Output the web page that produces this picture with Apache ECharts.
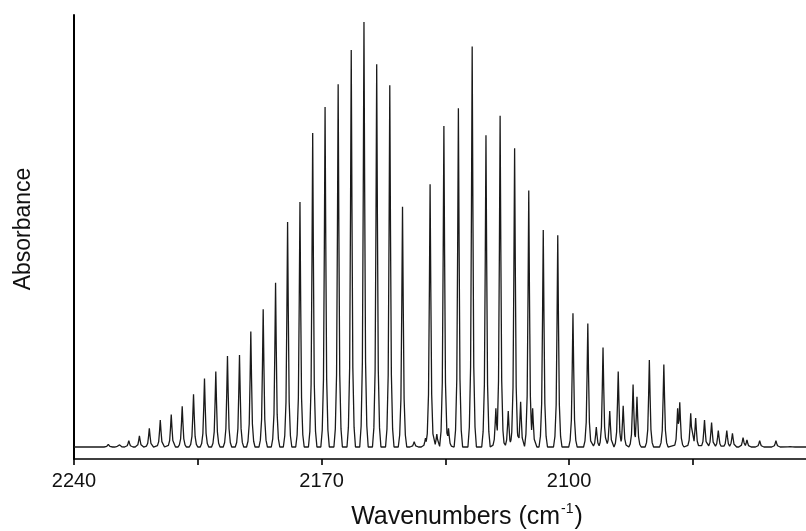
<!DOCTYPE html>
<html>
<head>
<meta charset="utf-8">
<script src="https://cdn.jsdelivr.net/npm/echarts@6/dist/echarts.min.js"></script>
<style>
  html, body { margin: 0; padding: 0; background: #ffffff; }
  #chart { width: 806px; height: 531px; }
</style>
</head>
<body>
<div id="chart"></div>
<script>
// Rotational lines of the fundamental band: centres (cm^-1) and peak absorbance
const lineCentres = [
  2230.3, 2227.3, 2224.5, 2221.5, 2218.7, 2215.6, 2212.5, 2209.4, 2206.2, 2203.1,
  2199.9, 2196.6, 2193.2, 2190.0, 2186.5, 2183.0, 2179.6, 2176.1, 2172.5, 2169.0,
  2165.3, 2161.6, 2158.0, 2154.4, 2150.7, 2147.1,
  2139.3, 2135.4, 2131.3, 2127.4, 2123.5, 2119.5, 2115.4, 2111.4, 2107.3, 2103.2,
  2098.9, 2094.7, 2090.4, 2086.1, 2081.9, 2077.3, 2073.2, 2069.3, 2065.6, 2061.7,
  2057.8, 2053.8, 2050.8, 2046.1, 2041.5, 2037.3
];
const lineHeights = [
  0.033, 0.035, 0.041, 0.052, 0.069, 0.088, 0.100, 0.119, 0.146, 0.181,
  0.197, 0.232, 0.234, 0.287, 0.337, 0.397, 0.534, 0.579, 0.734, 0.793,
  0.844, 0.921, 0.984, 0.889, 0.842, 0.568,
  0.619, 0.750, 0.790, 0.929, 0.729, 0.773, 0.700, 0.605, 0.516, 0.504,
  0.328, 0.305, 0.251, 0.197, 0.168, 0.223, 0.213, 0.114, 0.103, 0.088,
  0.064, 0.058, 0.048, 0.041, 0.041, 0.028
];

// Weak satellite lines (hot band)
const weakCentres = [
  2143.8, 2140.6, 2137.4, 2134.1, 2120.7, 2117.2, 2113.7, 2110.3,
  2092.3, 2088.5, 2084.7, 2080.8, 2068.7, 2064.2, 2059.7, 2055.4, 2049.7
];
const weakHeights = [
  0.039, 0.047, 0.056, 0.069, 0.114, 0.108, 0.129, 0.114,
  0.072, 0.108, 0.120, 0.140, 0.128, 0.092, 0.082, 0.064, 0.043
];

const baselineLevel = 0.027;

// Axis ticks and labels
const xTicks = [2240, 2205, 2170, 2135, 2100, 2065];
const xTickLabels = [2240, 2170, 2100];

// Shape of a single line: offset from centre (cm^-1) and fraction of peak height
const LINE_SHAPE = [
  [-1.2, 0], [-0.8, 0.05], [-0.45, 0.2], [-0.2, 0.6], [0, 1],
  [0.2, 0.6], [0.45, 0.2], [0.8, 0.05], [1.2, 0]
];

function shapeAt(d) {
  if (d <= LINE_SHAPE[0][0] || d >= LINE_SHAPE[LINE_SHAPE.length - 1][0]) return 0;
  for (let k = 1; k < LINE_SHAPE.length; k++) {
    const a = LINE_SHAPE[k - 1], b = LINE_SHAPE[k];
    if (d <= b[0]) return a[1] + (b[1] - a[1]) * (d - a[0]) / (b[0] - a[0]);
  }
  return 0;
}

// Polyline vertices: every line contributes its shape points; overlapping lines keep the higher value
function buildSpectrum(centres, heights, xMin, xMax) {
  const xs = new Set([xMin, xMax]);
  centres.forEach(c => LINE_SHAPE.forEach(p => xs.add(+(c + p[0]).toFixed(3))));
  const sorted = [...xs].filter(x => x >= xMin && x <= xMax).sort((a, b) => a - b);
  return sorted.map(x => {
    let y = baselineLevel;
    centres.forEach((c, i) => {
      const f = shapeAt(x - c);
      if (f > 0) y = Math.max(y, baselineLevel + (heights[i] - baselineLevel) * f);
    });
    return [x, +y.toFixed(4)];
  });
}

const X_MIN = 2033, X_MAX = 2240;
const allCentres = lineCentres.concat(weakCentres);
const allHeights = lineHeights.concat(weakHeights);
const spectrum = buildSpectrum(allCentres, allHeights, X_MIN, X_MAX);

const FONT = '"Liberation Sans", Arial, Helvetica, sans-serif';
const chart = echarts.init(document.getElementById('chart'), null, { renderer: 'canvas' });

chart.setOption({
  backgroundColor: '#ffffff',
  animation: false,
  grid: { left: 74, right: 0, top: 15, bottom: 72, containLabel: false },
  xAxis: {
    type: 'value',
    inverse: true,
    min: X_MIN,
    max: X_MAX,
    axisLine: { show: true, onZero: false, lineStyle: { color: '#000', width: 1.6 } },
    axisTick: { show: true, customValues: xTicks, length: 6, lineStyle: { color: '#000', width: 1.6 } },
    axisLabel: {
      show: true, customValues: xTickLabels, margin: 12,
      fontSize: 20, color: '#111', fontFamily: FONT,
      formatter: v => String(v)
    },
    splitLine: { show: false }
  },
  yAxis: {
    type: 'value',
    min: 0,
    max: 1,
    axisLine: { show: true, onZero: false, lineStyle: { color: '#000', width: 2 } },
    axisTick: { show: false },
    axisLabel: { show: false },
    splitLine: { show: false }
  },
  graphic: [
    {
      type: 'text',
      x: 24, y: 229,
      rotation: Math.PI / 2,
      style: {
        text: 'Absorbance',
        font: '23px ' + FONT,
        fill: '#111',
        align: 'center',
        verticalAlign: 'middle'
      }
    },
    {
      type: 'text',
      x: 467, y: 516,
      style: {
        text: '{a|Wavenumbers (cm}{s|-1}{a|)}',
        align: 'center',
        verticalAlign: 'middle',
        fill: '#111',
        rich: {
          a: { fontSize: 25, fontFamily: FONT, fill: '#111', lineHeight: 28, verticalAlign: 'bottom' },
          s: { fontSize: 14, fontFamily: FONT, fill: '#111', lineHeight: 28, verticalAlign: 'top', padding: [0, 1, 0, 1] }
        }
      }
    }
  ],
  series: [
    {
      type: 'line',
      data: spectrum,
      showSymbol: false,
      symbol: 'none',
      lineStyle: { color: '#1a1a1a', width: 1.3 },
      clip: true
    }
  ]
});
</script>
</body>
</html>
